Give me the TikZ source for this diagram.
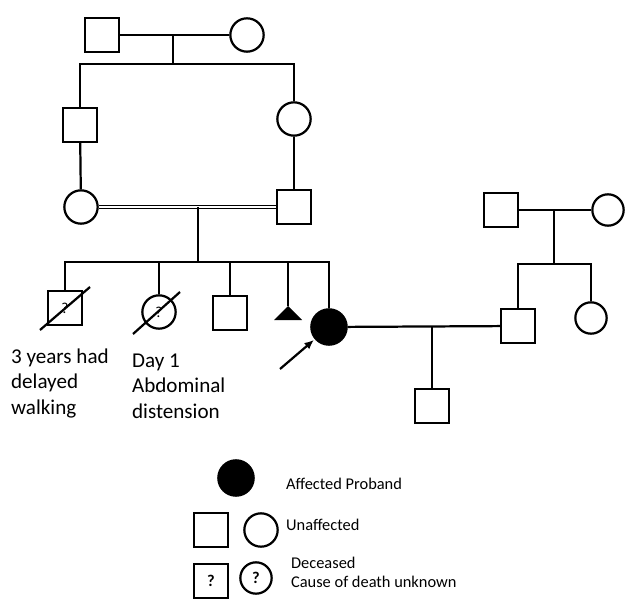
\documentclass[tikz,border=0pt]{standalone}
\usepackage{fontspec}
\setmainfont{Carlito}
\usetikzlibrary{arrows.meta}

\begin{document}
\begin{tikzpicture}[x=0.03cm,y=-0.03cm,line width=1.9pt,
	male/.style={draw,rectangle,minimum size=1.02cm,inner sep=0pt,font=\fontsize{13}{15}\selectfont},
	female/.style={draw,circle,minimum size=1.0cm,inner sep=0pt,font=\fontsize{13}{15}\selectfont},
	note/.style={align=left,anchor=north west,inner sep=0pt,font=\fontsize{18}{21.5}\selectfont},
	legendtext/.style={align=left,anchor=base west,inner sep=0pt,font=\fontsize{14}{16}\selectfont}]
	\useasboundingbox (0,0) rectangle (625,599);
	% generation I
	\node[male] (I1) at (102,35) {};
	\node[female] (I2) at (247,35) {};
	\coordinate (u1) at (173,35);
	\coordinate (s1) at (173,64);
	\draw (I1) -- (I2);
	\draw (u1) -- (s1);
	% generation II
	\node[male] (II1) at (80,125) {};
	\node[female] (II2) at (294,119) {};
	\draw (II1) |- (s1) -| (II2);
	% generation III
	\node[female] (III1) at (81,207) {};
	\node[male] (III2) at (294,207) {};
	\draw (II1) -- (III1);
	\draw (II2) -- (III2);
	\draw[line width=1.3pt,double,double distance=1.3pt] (III1) -- (III2);
	\coordinate (u2) at (198,207);
	\coordinate (s2) at (198,262);
	\draw (u2) -- (s2);
	% generation IV
	\node[male] (IV1) at (65,308) {?};
	\node[female] (IV2) at (159,312) {?};
	\node[male] (IV3) at (230,313) {};
	\coordinate (IV4) at (288,306);
	\node[female,fill,minimum size=1.06cm] (IV5) at (329,327) {};
	\draw (IV1) |- (s2) -| (IV5);
	\draw (IV2) -- (IV2 |- s2);
	\draw (IV3) -- (IV3 |- s2);
	\draw (IV4) -- (IV4 |- s2);
	\fill (IV4) -- ++(-14,14) -- ++(28,0) -- cycle;
	\draw (IV1) ++(-25,22) -- ++(50,-43);
	\draw (IV2) ++(-26,22) -- ++(47,-42);
	\coordinate (ptr) at (280,369);
	\draw[-{Latex[length=8pt,width=7pt]},shorten >=1pt] (ptr) -- (IV5);
	% spouse's family
	\node[male] (III3) at (501,210) {};
	\node[female,minimum size=0.94cm] (III4) at (608,210) {};
	\coordinate (u3) at (554,210);
	\coordinate (s3) at (554,264);
	\draw (III3) -- (III4);
	\draw (u3) -- (s3);
	\node[male] (IV6) at (518,326) {};
	\node[female,minimum size=0.94cm] (IV7) at (591,318) {};
	\draw (IV6) |- (s3) -| (IV7);
	\draw (IV5) -- (IV6);
	% generation V
	\coordinate (u4) at (432,326);
	\node[male] (V1) at (432,406) {};
	\draw (u4) -- (V1);
	% notes
	\node[note] (n1) at (10,348) {3 years had\\delayed\\walking};
	\node[note] (n2) at (131,353) {Day 1\\Abdominal\\distension};
	% key
	\node[female,fill,minimum size=1.06cm] (k1) at (236,478) {};
	\node[legendtext] (t1) at (285,489) {Affected Proband};
	\node[male] (k2) at (211,530) {};
	\node[female] (k3) at (261,530) {};
	\node[legendtext] (t2) at (285,530) {Unaffected};
	\node[male,font=\fontsize{14}{16}\selectfont\bfseries] (k4) at (211,581) {?};
	\node[female,minimum size=0.94cm,font=\fontsize{14}{16}\selectfont\bfseries] (k5) at (256,578) {?};
	\node[legendtext,anchor=north west] (t3) at (290,556) {Deceased\\Cause of death unknown};
\end{tikzpicture}
\end{document}
